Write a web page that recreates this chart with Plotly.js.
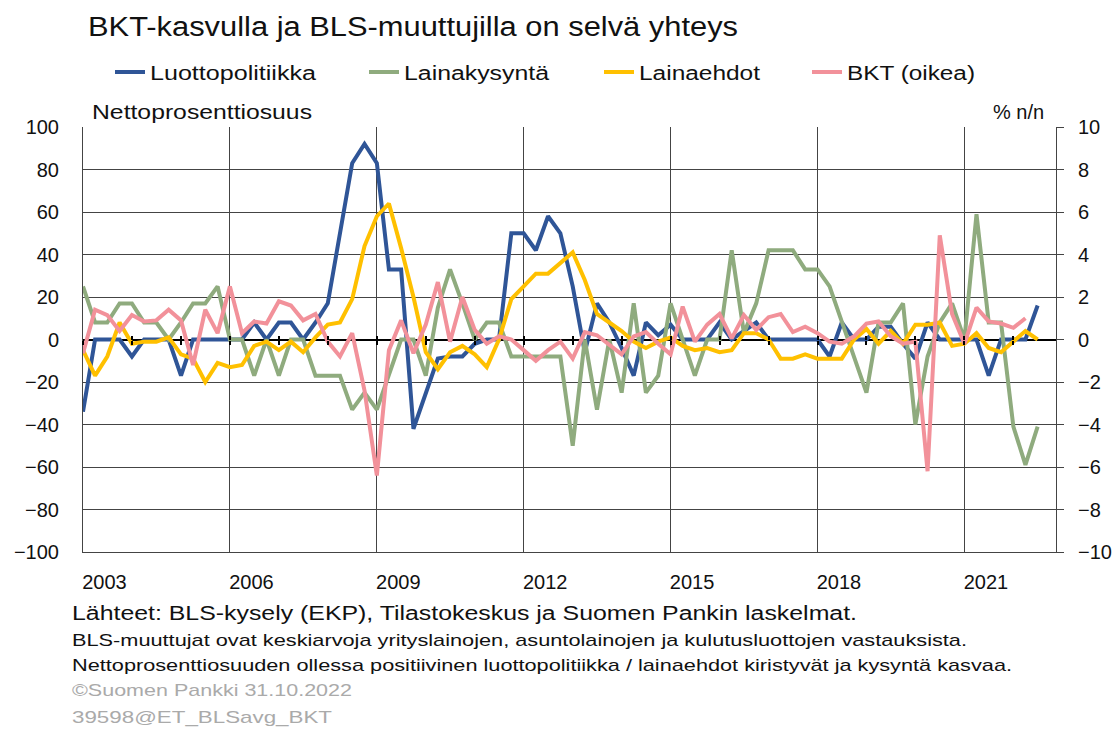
<!DOCTYPE html>
<html>
<head>
<meta charset="utf-8">
<script src="https://cdn.plot.ly/plotly-3.0.1.min.js"></script>
<style>html,body{margin:0;padding:0;background:#fff;}#chart{width:1119px;height:731px;}</style>
</head>
<body>
<div id="chart"></div>
<script>
// Quarterly categories 2003Q1 .. 2022Q3
const quarters = [];
for (let y = 2003; y <= 2022; y++) {
  for (const m of ['01', '04', '07', '10']) quarters.push(y + '-' + m + '-01');
}
quarters.length = 79;

const yearLabels = ['2003', '2006', '2009', '2012', '2015', '2018', '2021'];

// Luottopolitiikka (nettoprosenttiosuus)
const luottopolitiikka = [
  -34, 0, 0, 0, -8, 0, 0, 0, -17, 0,
  0, 0, 0, 0, 8, 0, 8, 8, 0, 8,
  17, 50, 83, 92, 83, 33, 33, -42, -25, -9,
  -8, -8, -2, 0, 0, 50, 50, 42, 58, 50,
  25, -6, 17, 8, -4, -17, 8, 2, 7, 0,
  0, 0, 8, 0, 4, 8, 0, 0, 0, 0,
  0, -8, 8, 0, 0, 6, 6, -2, -9, 8,
  0, 0, 0, 0, -17, 0, 0, 0, 16
];

// Lainakysyntä
const lainakysynta = [
  25, 8, 8, 17, 17, 8, 8, 0, 8, 17,
  17, 25, 0, 0, -17, 0, -17, 0, 0, -17,
  -17, -17, -33, -25, -33, -17, 0, 0, -17, 15,
  33, 17, 0, 8, 8, -8, -8, -8, -8, -8,
  -50, 0, -33, 0, -25, 17, -25, -17, 17, 0,
  -17, 0, 0, 42, 3, 17, 42, 42, 42, 33,
  33, 25, 8, -8, -25, 8, 8, 17, -40, -8,
  8, 17, 0, 59, 8, 8, -41, -59, -41
];

// Lainaehdot
const lainaehdot = [
  -5, -17, -8, 8, -2, -1, -1, 1, -7, -9,
  -20, -11, -13, -12, -3, -1, -5, -1, -6, 1,
  7, 8, 19, 44, 58, 64, 43, 20, -6, -14,
  -6, -3, -7, -13, 0, 19, 25, 31, 31, 36,
  41, 28, 12, 8, 4, -1, -4, -1, 1, -3,
  -5, -4, -6, -5, 3, 3, 0, -9, -9, -7,
  -9, -9, -9, 0, 5, -2, 4, -2, 7, 7,
  8, -3, -2, 3, -4, -6, -1, 4, 0
];

// BKT (oikea), % n/n
const bkt = [
  -0.65, 1.4, 1.15, 0.4, 1.15, 0.85, 0.9, 1.4, 0.9, -1.2,
  1.4, 0.3, 2.5, 0.3, 0.85, 0.75, 1.8, 1.6, 0.9, 1.2,
  -0.1, -0.8, 0.3, -2.4, -6.4, -0.5, 0.9, -0.65, 0.7, 2.7,
  -0.1, 2.0, 0.45, -0.2, 0.15, 0, -0.5, -1.0, -0.5, -0.1,
  -0.9, 0.35, 0.2, -0.25, -0.7, 0.15, 0.35, -0.2, -0.7, 1.55,
  -0.1, 0.7, 1.2, 0.05, 1.15, 0.45, 1.05, 1.2, 0.35, 0.6,
  0.3, -0.1, -0.2, 0.15, 0.75, 0.85, 0.15, -0.2, -0.1, -6.2,
  4.9, 1.2, -0.2, 1.5, 0.85, 0.75, 0.55, 1.0, null
];

const titleText = 'BKT-kasvulla ja BLS-muuttujilla on selvä yhteys';
const footerTexts = [
  'Lähteet: BLS-kysely (EKP), Tilastokeskus ja Suomen Pankin laskelmat.',
  'BLS-muuttujat ovat keskiarvoja yrityslainojen, asuntolainojen ja kulutusluottojen vastauksista.',
  'Nettoprosenttiosuuden ollessa positiivinen luottopolitiikka / lainaehdot kiristyvät ja kysyntä kasvaa.',
  '©Suomen Pankki 31.10.2022',
  '39598@ET_BLSavg_BKT'
];

const FONT = 'Liberation Sans, Arial, sans-serif';
const W = 1119, H = 731;
const L = 83, R = 1056, T = 127, B = 552;
const px = x => (x - L) / (R - L);
const py = y => (B - y) / (B - T);

const labelDates = yearLabels.map(y => y + '-06-10');
const gridDates = yearLabels.slice(1).map(y => y + '-01-01');
const yearTicks = [];
for (let y = 2003; y <= 2022; y++) yearTicks.push(y + '-01-01');
const xRange = ['2003-01-01', '2022-11-15'];

function mk(name, y, color, legendId, yaxis) {
  return {
    type: 'scatter', mode: 'lines', name: name, x: quarters, y: y,
    line: {color: color, width: 4}, yaxis: yaxis || 'y', legend: legendId,
    connectgaps: false, hoverinfo: 'skip'
  };
}

const traces = [
  mk('Luottopolitiikka', luottopolitiikka, '#2f5597', 'legend'),
  mk('Lainakysyntä', lainakysynta, '#8fab7e', 'legend2'),
  mk('Lainaehdot', lainaehdot, '#ffc000', 'legend3'),
  mk('BKT (oikea)', bkt, '#f2919a', 'legend4', 'y2'),
  // empty helpers so that the zero-line tick axes are drawn
  {type: 'scatter', mode: 'lines', x: [quarters[0]], y: [null], xaxis: 'x2', showlegend: false, hoverinfo: 'skip'},
  {type: 'scatter', mode: 'lines', x: [quarters[0]], y: [null], xaxis: 'x3', showlegend: false, hoverinfo: 'skip'}
];

function leg(xpx) {
  return {
    x: px(xpx), xanchor: 'left', y: py(72), yanchor: 'middle',
    orientation: 'h', bgcolor: 'rgba(0,0,0,0)', borderwidth: 0,
    entrywidth: 200, entrywidthmode: 'pixels',
    font: {family: FONT, size: 20, color: '#111'}
  };
}

function note(text, x, y, size, color, anchor) {
  return {text: text, xref: 'paper', yref: 'paper', x: px(x), y: py(y),
    xanchor: anchor || 'left', yanchor: 'middle', showarrow: false,
    font: {family: FONT, size: size, color: color || '#111'}};
}

const layout = {
  width: W, height: H,
  margin: {l: L, r: W - R, t: T, b: H - B, pad: 0},
  paper_bgcolor: '#fff', plot_bgcolor: '#fff',
  showlegend: true,
  title: {
    text: titleText,
    x: 88 / W, xanchor: 'left', xref: 'container',
    y: 1 - 27 / H, yanchor: 'middle', yref: 'container',
    font: {family: FONT, size: 27, color: '#111'}
  },
  legend: leg(110), legend2: leg(364), legend3: leg(599), legend4: leg(807),
  xaxis: {
    type: 'date', range: xRange, fixedrange: true,
    tickmode: 'array', tickvals: labelDates, ticktext: yearLabels,
    ticks: '', showgrid: false, showline: true, linecolor: '#444', linewidth: 1,
    tickfont: {family: FONT, size: 20, color: '#111'},
    ticklabelstandoff: 12,
    minor: {tickmode: 'array', tickvals: gridDates, showgrid: true, gridcolor: '#444', gridwidth: 1, ticks: ''},
    zeroline: false
  },
  xaxis2: {
    type: 'date', range: xRange, overlaying: 'x', anchor: 'free', position: 0.5,
    tickmode: 'array', tickvals: yearTicks, showticklabels: false,
    ticks: 'outside', ticklen: 4, tickwidth: 2, tickcolor: '#000',
    showgrid: false, showline: false, zeroline: false
  },
  xaxis3: {
    type: 'date', range: xRange, overlaying: 'x', anchor: 'free', position: 0.5,
    tickmode: 'array', tickvals: yearTicks, showticklabels: false,
    ticks: 'inside', ticklen: 4, tickwidth: 2, tickcolor: '#000',
    showgrid: false, showline: false, zeroline: false
  },
  yaxis: {
    range: [-100, 100], tickmode: 'linear', tick0: -100, dtick: 20,
    showgrid: true, gridcolor: '#444', gridwidth: 1,
    zeroline: true, zerolinecolor: '#000', zerolinewidth: 2,
    showline: true, linecolor: '#444', linewidth: 1, ticks: '',
    tickfont: {family: FONT, size: 20, color: '#111'},
    ticklabelstandoff: 19
  },
  yaxis2: {
    range: [-10, 10], tickmode: 'linear', tick0: -10, dtick: 2,
    overlaying: 'y', side: 'right', showgrid: false, zeroline: false,
    showline: true, linecolor: '#444', linewidth: 1,
    ticks: 'outside', ticklen: 7, tickcolor: '#444',
    tickfont: {family: FONT, size: 20, color: '#111'},
    ticklabelstandoff: 10
  },
  annotations: [
    note('Nettoprosenttiosuus', 90, 112, 20),
    note('% n/n', 1046, 112, 20, '#111', 'right'),
    note(footerTexts[0], 70, 613, 20),
    note(footerTexts[1], 70, 640, 17),
    note(footerTexts[2], 70, 665, 17),
    note(footerTexts[3], 70, 690, 17, '#aaaaaa'),
    note(footerTexts[4], 70, 717, 17, '#aaaaaa')
  ]
};

// widths of the texts as they appear in the reference (horizontally wider lettering)
const textWidths = {};
textWidths[titleText] = 650;
textWidths['Luottopolitiikka'] = 166;
textWidths['Lainakysyntä'] = 145;
textWidths['Lainaehdot'] = 121;
textWidths['BKT (oikea)'] = 128;
textWidths['Nettoprosenttiosuus'] = 220;
textWidths[footerTexts[0]] = 785;
textWidths[footerTexts[1]] = 895;
textWidths[footerTexts[2]] = 940;
textWidths[footerTexts[3]] = 280;
textWidths[footerTexts[4]] = 260;

Plotly.newPlot('chart', traces, layout, {displayModeBar: false, staticPlot: true}).then(gd => {
  gd.querySelectorAll('text').forEach(t => {
    const w = textWidths[t.textContent];
    if (!w) return;
    const orig = t.getComputedTextLength();
    const anchor = t.getAttribute('text-anchor') || window.getComputedStyle(t).textAnchor;
    t.setAttribute('textLength', w);
    t.setAttribute('lengthAdjust', 'spacingAndGlyphs');
    let dx = 0;
    if (anchor === 'middle') dx = (w - orig) / 2;
    else if (anchor === 'end') dx = w - orig;
    if (dx) {
      const prev = t.getAttribute('transform') || '';
      t.setAttribute('transform', 'translate(' + dx + ',0) ' + prev);
    }
  });
});
</script>
</body>
</html>
